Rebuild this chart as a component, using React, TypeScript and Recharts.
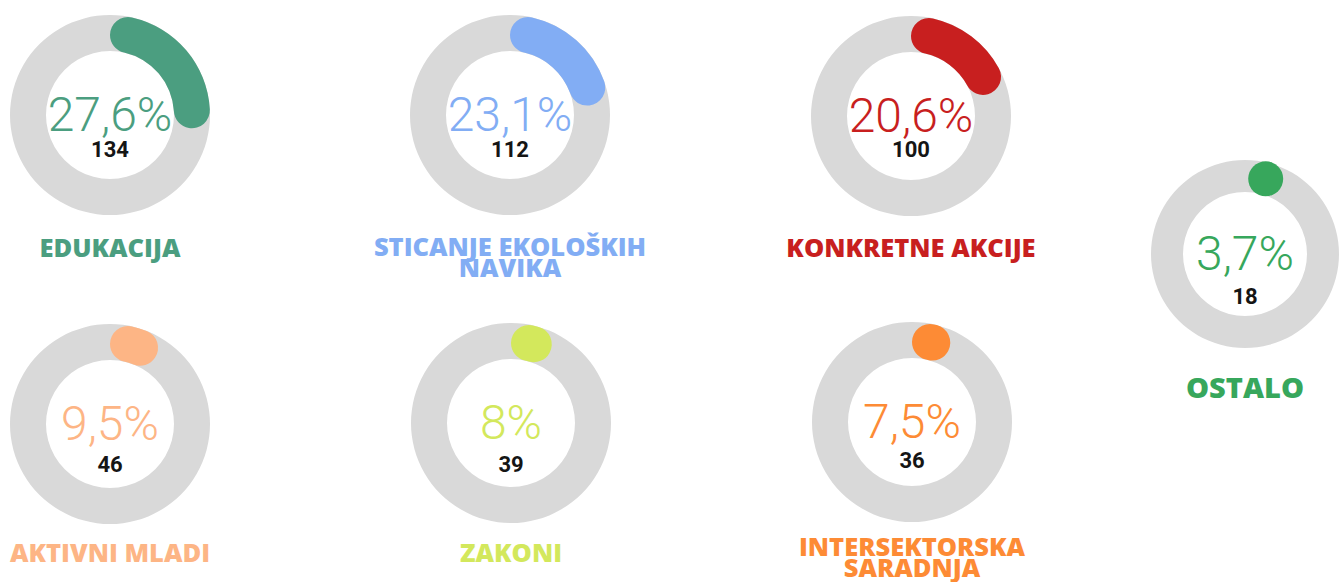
import React from 'react';
import { PieChart, Pie, Cell, Label, Sector } from 'recharts';

// ---- data ----
const categories = [
  'EDUKACIJA',
  'STICANJE EKOLOŠKIH NAVIKA',
  'KONKRETNE AKCIJE',
  'OSTALO',
  'AKTIVNI MLADI',
  'ZAKONI',
  'INTERSEKTORSKA SARADNJA',
];
const labelLines = [
  ['EDUKACIJA'],
  ['STICANJE EKOLOŠKIH', 'NAVIKA'],
  ['KONKRETNE AKCIJE'],
  ['OSTALO'],
  ['AKTIVNI MLADI'],
  ['ZAKONI'],
  ['INTERSEKTORSKA', 'SARADNJA'],
];
const percents = [27.6, 23.1, 20.6, 3.7, 9.5, 8, 7.5];
const counts = [134, 112, 100, 18, 46, 39, 36];
const percentLabels = ['27,6%', '23,1%', '20,6%', '3,7%', '9,5%', '8%', '7,5%'];

// ---- styles / layout ----
const colors = ['#4b9e80', '#82adf4', '#c81f1f', '#37a75c', '#fdb585', '#d3e85c', '#fd8b35'];
const TRACK = '#d9d9d9';

const layout = [
  { cx: 110, cy: 115, r: 100, ir: 64, labelY: 257, labelSize: 25.5, countDy: 42 },
  { cx: 510, cy: 115, r: 100, ir: 64, labelY: 256, labelSize: 25.5, countDy: 42 },
  { cx: 911, cy: 116, r: 100, ir: 64, labelY: 257, labelSize: 25.5, countDy: 41 },
  { cx: 1245, cy: 254, r: 94, ir: 62, labelY: 398, labelSize: 29, countDy: 50 },
  { cx: 110, cy: 424, r: 100, ir: 64, labelY: 562, labelSize: 25.5, countDy: 48 },
  { cx: 511, cy: 423, r: 100, ir: 64, labelY: 562, labelSize: 25.5, countDy: 49 },
  { cx: 912, cy: 422, r: 100, ir: 64, labelY: 556, labelSize: 25.5, countDy: 46 },
];

const renderValueShape = (props: any) => {
  const { cx, cy, innerRadius, outerRadius, startAngle, endAngle, fill } = props;
  if (!fill || fill === 'none') return <g />;
  const cr = (outerRadius - innerRadius) / 2;
  const mid = (outerRadius + innerRadius) / 2;
  const theta = (Math.asin(cr / mid) * 180) / Math.PI;
  const span = Math.abs(endAngle - startAngle);
  if (span < 2 * theta) {
    const a = ((startAngle - theta * 1.3) * Math.PI) / 180;
    const x = cx + mid * Math.cos(a);
    const y = cy - mid * Math.sin(a);
    return <circle cx={x} cy={y} r={cr + 1.5} fill={fill} />;
  }
  return (
    <Sector
      cx={cx}
      cy={cy}
      innerRadius={innerRadius}
      outerRadius={outerRadius}
      startAngle={startAngle}
      endAngle={endAngle}
      cornerRadius={cr}
      fill={fill}
      stroke="none"
    />
  );
};

const makeCenter = (i: number) => (p: any) => {
  const L = layout[i];
  const vb = (p && p.viewBox) || {};
  const cx = vb.cx ?? L.cx;
  const cy = vb.cy ?? L.cy;
  const lines = labelLines[i];
  const lineH = 21;
  return (
    <g>
      <text
        x={cx}
        y={cy + 16}
        textAnchor="middle"
        fill={colors[i]}
        style={{ fontFamily: 'Roboto, sans-serif', fontWeight: 300, fontSize: 48 }}
      >
        {percentLabels[i]}
      </text>
      <text
        x={cx}
        y={cy + L.countDy}
        textAnchor="middle"
        fill="#151515"
        style={{ fontFamily: 'Roboto, sans-serif', fontWeight: 700, fontSize: 22 }}
      >
        {counts[i]}
      </text>
      <text
        textAnchor="middle"
        fill={colors[i]}
        style={{ fontFamily: '"Open Sans", sans-serif', fontWeight: 800, fontSize: L.labelSize }}
      >
        {lines.map((ln, k) => (
          <tspan key={k} x={cx} y={L.labelY + k * lineH}>
            {ln}
          </tspan>
        ))}
      </text>
    </g>
  );
};

export default function App() {
  return (
    <div style={{ position: 'absolute', left: 0, top: 0, width: 1343, height: 582, background: '#fff' }}>
      <PieChart width={1343} height={582} margin={{ top: 0, right: 0, bottom: 0, left: 0 }}>
        {layout.map((L, i) => (
          <Pie
            key={`track-${i}`}
            data={[{ name: 'track', value: 1 }]}
            dataKey="value"
            cx={L.cx}
            cy={L.cy}
            innerRadius={L.ir}
            outerRadius={L.r}
            startAngle={90}
            endAngle={-270}
            fill={TRACK}
            stroke="none"
            isAnimationActive={false}
          />
        ))}
        {layout.map((L, i) => (
          <Pie
            key={`val-${i}`}
            data={[
              { name: categories[i], value: percents[i] },
              { name: 'rest', value: 100 - percents[i] },
            ]}
            dataKey="value"
            cx={L.cx}
            cy={L.cy}
            innerRadius={L.ir}
            outerRadius={L.r}
            startAngle={90}
            endAngle={-270}
            stroke="none"
            cornerRadius={(L.r - L.ir) / 2}
            shape={renderValueShape}
            isAnimationActive={false}
          >
            <Cell fill={colors[i]} />
            <Cell fill="none" />
            <Label position="center" content={makeCenter(i)} />
          </Pie>
        ))}
      </PieChart>
    </div>
  );
}
